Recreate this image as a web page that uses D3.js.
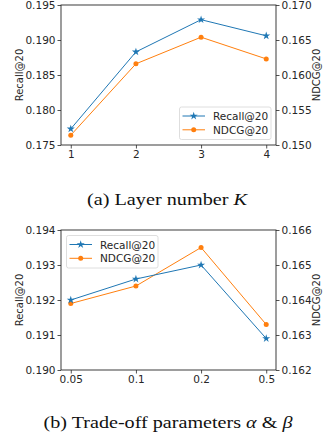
<!DOCTYPE html>
<html><head><meta charset="utf-8">
<script src="https://cdn.jsdelivr.net/npm/d3@7/dist/d3.min.js"></script>
<style>
body{margin:0;background:#fff;}
</style></head><body>
<script>
const layerK = [1, 2, 3, 4];
const layerRecall = [0.1773, 0.1883, 0.1929, 0.1906];
const layerNDCG = [0.1514, 0.1616, 0.1654, 0.1623];
const layerLeftTicks = [0.175, 0.180, 0.185, 0.190, 0.195];
const layerRightTicks = [0.150, 0.155, 0.160, 0.165, 0.170];

const tradeLabels = ["0.05", "0.1", "0.2", "0.5"];
const tradeRecall = [0.1920, 0.1926, 0.1930, 0.1909];
const tradeNDCG = [0.1639, 0.1644, 0.1655, 0.1633];
const tradeLeftTicks = [0.190, 0.191, 0.192, 0.193, 0.194];
const tradeRightTicks = [0.162, 0.163, 0.164, 0.165, 0.166];

const seriesNames = ["Recall@20", "NDCG@20"];
const BLUE = "#1f77b4", ORANGE = "#ff7f0e";
const SANS = "'DejaVu Sans', sans-serif";

const svg = d3.select("body").append("svg").attr("width", 323).attr("height", 443);

function panel(opt) {
  const L = 61, R = 276, T = opt.top, B = opt.top + 140;
  const g = svg.append("g");
  const n = opt.labels.length;
  const x = d3.scaleLinear().domain([-0.15, n - 1 + 0.15]).range([L, R]);
  const yl = d3.scaleLinear().domain(opt.ld).range([B, T]);
  const yr = d3.scaleLinear().domain(opt.rd).range([B, T]);
  const fmt = d3.format(".3f");

  const ax = g.append("g").attr("transform", `translate(0,${B})`)
    .call(d3.axisBottom(x).tickValues(d3.range(n)).tickFormat(i => opt.labels[i]).tickSize(3.5).tickPadding(2));
  const al = g.append("g").attr("transform", `translate(${L},0)`)
    .call(d3.axisLeft(yl).tickValues(opt.lt).tickFormat(fmt).tickSize(3.5).tickPadding(2));
  const ar = g.append("g").attr("transform", `translate(${R},0)`)
    .call(d3.axisRight(yr).tickValues(opt.rt).tickFormat(fmt).tickSize(3.5).tickPadding(2));
  [ax, al, ar].forEach(a => {
    a.select(".domain").remove();
    a.attr("font-family", null).attr("font-size", null);
    a.selectAll("text").style("font-family", SANS).style("font-size", "10.5px").attr("fill", "#262626");
    a.selectAll("line").attr("stroke", "#262626").attr("stroke-width", 0.8);
  });
  g.append("rect").attr("x", L).attr("y", T).attr("width", R - L).attr("height", B - T)
    .attr("fill", "none").attr("stroke", "#262626").attr("stroke-width", 0.9);

  g.append("text").attr("transform", `translate(19,${(T + B) / 2}) rotate(-90)`)
    .attr("text-anchor", "middle").attr("dominant-baseline", "central")
    .style("font-family", SANS).style("font-size", "10px").attr("fill", "#262626").text(seriesNames[0]);
  g.append("text").attr("transform", `translate(316,${(T + B) / 2}) rotate(-90)`)
    .attr("text-anchor", "middle").attr("dominant-baseline", "central")
    .style("font-family", SANS).style("font-size", "10px").attr("fill", "#262626").text(seriesNames[1]);

  const star = d3.symbol().type(d3.symbolStar).size(20);
  const line1 = d3.line().x((d, i) => x(i)).y(d => yl(d));
  const line2 = d3.line().x((d, i) => x(i)).y(d => yr(d));
  g.append("path").attr("d", line2(opt.ndcg)).attr("fill", "none").attr("stroke", ORANGE).attr("stroke-width", 1);
  g.selectAll(".c").data(opt.ndcg).enter().append("circle")
    .attr("cx", (d, i) => x(i)).attr("cy", d => yr(d)).attr("r", 2.5).attr("fill", ORANGE);
  g.append("path").attr("d", line1(opt.recall)).attr("fill", "none").attr("stroke", BLUE).attr("stroke-width", 1);
  g.selectAll(".s").data(opt.recall).enter().append("path")
    .attr("transform", (d, i) => `translate(${x(i)},${yl(d)})`).attr("d", star).attr("fill", BLUE);

  // legend
  const lg = g.append("g").attr("transform", `translate(${opt.lx},${opt.ly})`);
  lg.append("rect").attr("x", 0).attr("y", 0).attr("width", 91.5).attr("height", 32.5).attr("rx", 2)
    .attr("fill", "#fff").attr("fill-opacity", 0.8).attr("stroke", "#d6d6d6").attr("stroke-width", 0.8);
  [[BLUE, 0], [ORANGE, 1]].forEach(([c, k]) => {
    const yy = 9 + k * 13.8;
    lg.append("line").attr("x1", 3).attr("x2", 25.5).attr("y1", yy).attr("y2", yy).attr("stroke", c).attr("stroke-width", 1);
    if (k === 0) lg.append("path").attr("transform", `translate(14.2,${yy})`).attr("d", star).attr("fill", c);
    else lg.append("circle").attr("cx", 14.2).attr("cy", yy).attr("r", 2.5).attr("fill", c);
    lg.append("text").attr("x", 33.5).attr("y", yy).attr("dominant-baseline", "central")
      .style("font-family", SANS).style("font-size", "10.5px").attr("fill", "#262626").text(seriesNames[k]);
  });

  // caption
  const cap = svg.append("text").attr("x", opt.cx0).attr("y", opt.cy)
    .attr("textLength", opt.cw).attr("lengthAdjust", "spacingAndGlyphs")
    .style("font-family", "'Liberation Serif', serif").style("font-size", "17px").attr("fill", "#111");
  opt.caption.forEach(p => cap.append("tspan").style("font-style", p[1] ? "italic" : "normal").text(p[0]));
}

panel({top: 5, labels: layerK.map(String), recall: layerRecall, ndcg: layerNDCG,
  ld: [0.175, 0.195], rd: [0.150, 0.170], lt: layerLeftTicks, rt: layerRightTicks,
  lx: 179.5, ly: 107, cx0: 87, cw: 160, cy: 204.5, caption: [["(a) Layer number ", 0], ["K", 1]]});
panel({top: 230, labels: tradeLabels, recall: tradeRecall, ndcg: tradeNDCG,
  ld: [0.190, 0.194], rd: [0.162, 0.166], lt: tradeLeftTicks, rt: tradeRightTicks,
  lx: 66.5, ly: 235.5, cx0: 43.5, cw: 249, cy: 428, caption: [["(b) Trade-off parameters ", 0], ["α", 1], [" & ", 0], ["β", 1]]});
</script>
</body></html>
